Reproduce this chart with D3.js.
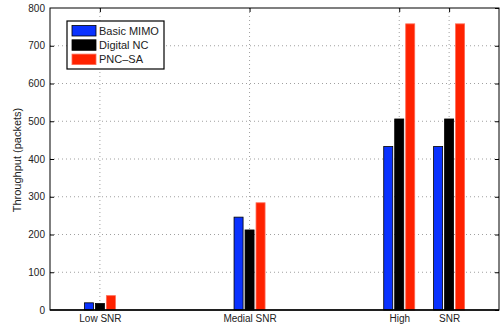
<!DOCTYPE html>
<html>
<head>
<meta charset="utf-8">
<script src="https://cdn.jsdelivr.net/npm/d3@7"></script>
<style>
  body { margin: 0; background: #fff; }
  text { font-family: "Liberation Sans", Arial, Helvetica, sans-serif; fill: #222; }
  .grid line { stroke: #a0a0a0; stroke-dasharray: 1,3; stroke-width: 1; }
</style>
</head>
<body>
<div id="vis"></div>
<script>
// Data
var categories = ['Low SNR', 'Medial SNR', 'High', 'SNR'];
var positions = [1, 4, 7, 8];
var series = ['Basic MIMO', 'Digital NC', 'PNC\u2013SA'];
var basicMimo = [19, 246, 433, 433];
var digitalNc = [17, 212, 506, 506];
var pncSa = [38, 284, 758, 758];
var yTicks = [0, 100, 200, 300, 400, 500, 600, 700, 800];

var colors = ['#0a32ff', '#000000', '#ff2200'];
var edges = ['#000000', '#000000', '#ff6a55'];

var width = 500, height = 324;
var margin = { left: 50, right: 1, top: 8, bottom: 14 };
var drawWidth = width - margin.left - margin.right;
var drawHeight = height - margin.top - margin.bottom;

var svg = d3.select('#vis').append('svg')
    .attr('width', width)
    .attr('height', height);

var g = svg.append('g')
    .attr('transform', 'translate(' + margin.left + ',' + margin.top + ')');

// Scales
var xScale = d3.scaleLinear().domain([0, 9]).range([0, drawWidth]);
var yScale = d3.scaleLinear().domain([0, 800]).range([drawHeight, 0]);
var offset = d3.scaleBand().domain(series).range([-15.5, 15.5]).paddingInner(0.18);

// Grid lines
var grid = g.append('g').attr('class', 'grid');
grid.selectAll('.hg').data(yTicks.slice(1, -1)).enter().append('line')
    .attr('x1', 0).attr('x2', drawWidth)
    .attr('y1', function(d) { return yScale(d); })
    .attr('y2', function(d) { return yScale(d); });
grid.selectAll('.vg').data(positions).enter().append('line')
    .attr('y1', 0).attr('y2', drawHeight)
    .attr('x1', function(d) { return xScale(d); })
    .attr('x2', function(d) { return xScale(d); });

// Bars
var rows = [];
categories.forEach(function(c, i) {
    [basicMimo, digitalNc, pncSa].forEach(function(vals, j) {
        rows.push({ pos: positions[i], s: series[j], k: j, v: vals[i] });
    });
});

g.selectAll('rect.bar').data(rows).enter().append('rect')
    .attr('class', 'bar')
    .attr('x', function(d) { return xScale(d.pos) + offset(d.s); })
    .attr('y', function(d) { return yScale(d.v); })
    .attr('width', offset.bandwidth())
    .attr('height', function(d) { return drawHeight - yScale(d.v); })
    .attr('fill', function(d) { return colors[d.k]; })
    .attr('stroke', function(d) { return edges[d.k]; })
    .attr('stroke-width', 0.8);

// Axes (MATLAB style, inner ticks)
var yAxis = d3.axisLeft(yScale).tickValues(yTicks).tickSize(-4).tickPadding(5);
var xAxis = d3.axisBottom(xScale).tickValues(positions)
    .tickFormat(function(d, i) { return categories[i]; })
    .tickSize(-4).tickPadding(5);

var ya = g.append('g').call(yAxis);
var xa = g.append('g').attr('transform', 'translate(0,' + drawHeight + ')').call(xAxis);
var ytop = g.append('g').attr('transform', 'translate(' + drawWidth + ',0)')
    .call(d3.axisRight(yScale).tickValues(yTicks).tickSize(-4).tickFormat(''));
var xtop = g.append('g')
    .call(d3.axisTop(xScale).tickValues(positions).tickSize(-4).tickFormat(''));

[ya, xa, ytop, xtop].forEach(function(a) {
    a.select('.domain').remove();
    a.selectAll('line').attr('stroke', '#000');
    a.selectAll('text').style('font-size', '10px').attr('fill', '#222');
});
ya.selectAll('.tick').filter(function(d) { return d === 0 || d === 800; }).select('line').remove();

// Box
g.append('rect')
    .attr('x', 0).attr('y', 0)
    .attr('width', drawWidth).attr('height', drawHeight)
    .attr('fill', 'none').attr('stroke', '#000').attr('stroke-width', 1);
g.append('line')
    .attr('x1', 0).attr('x2', drawWidth)
    .attr('y1', drawHeight).attr('y2', drawHeight)
    .attr('stroke', '#000').attr('stroke-width', 1.6);

// Y label
svg.append('text')
    .attr('transform', 'translate(21,' + (margin.top + 152) + ') rotate(-90)')
    .attr('text-anchor', 'middle')
    .style('font-size', '11px')
    .text('Throughput (packets)');

// Legend
var legend = svg.append('g').attr('transform', 'translate(67,21)');
legend.append('rect')
    .attr('width', 97).attr('height', 48)
    .attr('fill', '#fff').attr('stroke', '#000').attr('stroke-width', 1.2);
series.forEach(function(s, i) {
    legend.append('rect')
        .attr('x', 5).attr('y', 4.5 + i * 14.3)
        .attr('width', 24).attr('height', 10.5)
        .attr('fill', colors[i]).attr('stroke', edges[i]).attr('stroke-width', 0.8);
    legend.append('text')
        .attr('x', 32).attr('y', 9.75 + i * 14.3)
        .attr('dy', '0.35em')
        .style('font-size', '11px')
        .text(s);
});
</script>
</body>
</html>
